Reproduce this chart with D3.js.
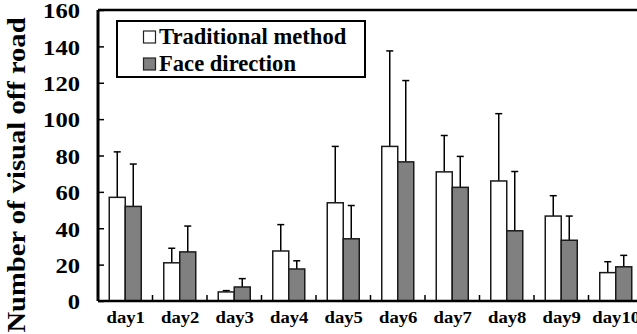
<!DOCTYPE html>
<html><head><meta charset="utf-8">
<script src="https://cdn.jsdelivr.net/npm/d3@7"></script>
<style>body{margin:0;background:#fff}svg{display:block}</style>
</head><body>
<script>
const days = ["day1","day2","day3","day4","day5","day6","day7","day8","day9","day10"];
const seriesNames = ["Traditional method","Face direction"];
const traditional = [57, 21, 5, 27.5, 54, 85, 71, 66, 46.7, 15.6];
const traditionalErr = [25, 8, 0.7, 14.5, 31, 52.5, 20, 37, 11.2, 6];
const face = [52, 27, 7.7, 17.6, 34.2, 76.5, 62.5, 38.6, 33.4, 18.8];
const faceErr = [23.3, 14.2, 4.6, 4.5, 18.3, 44.7, 17, 32.6, 13.3, 6.3];
const yTicks = [0,20,40,60,80,100,120,140,160];

(function(){
const W = 637, H = 334;
const svg = d3.select("body").append("svg").attr("width", W).attr("height", H);
const left = 98, topY = 10, bottom = 301, catW = 54.5;
const x = d3.scaleBand().domain(days).range([left, left + catW*days.length]).padding(0);
const y = d3.scaleLinear().domain([0,160]).range([bottom, topY]);
const xs = d3.scaleBand().domain(seriesNames).range([(catW-32)/2, (catW+32)/2]).padding(0);
const fills = {"Traditional method":"#ffffff","Face direction":"#808080"};
const data = days.map((d,i)=>({day:d, vals:[
  {s:seriesNames[0], v:traditional[i], e:traditionalErr[i]},
  {s:seriesNames[1], v:face[i], e:faceErr[i]}]}));
const font = sel => sel.style("font-family","Liberation Serif").style("font-weight","bold").style("fill","#000");

svg.append("line").attr("x1", left).attr("x2", W+5).attr("y1", y(160)).attr("y2", y(160))
  .attr("stroke","#000").attr("stroke-width",2.5);

const g = svg.selectAll("g.day").data(data).join("g").attr("class","day")
  .attr("transform", d=>`translate(${x(d.day)},0)`);
g.selectAll("g.err").data(d=>d.vals).join("g").attr("class","err").each(function(d){
  const cx = xs(d.s) + xs.bandwidth()/2;
  const s = d3.select(this);
  s.append("line").attr("x1",cx).attr("x2",cx).attr("y1",y(d.v)).attr("y2",y(d.v+d.e))
    .attr("stroke","#000").attr("stroke-width",1.5);
  s.append("line").attr("x1",cx-3.5).attr("x2",cx+3.5).attr("y1",y(d.v+d.e)).attr("y2",y(d.v+d.e))
    .attr("stroke","#000").attr("stroke-width",1.5);
});
g.selectAll("rect").data(d=>d.vals).join("rect")
  .attr("x", d=>xs(d.s)).attr("width", xs.bandwidth())
  .attr("y", d=>y(d.v)).attr("height", d=>y(0)-y(d.v))
  .attr("fill", d=>fills[d.s]).attr("stroke","#1a1a1a").attr("stroke-width",1.5);

const yAxis = svg.append("g").attr("transform",`translate(${left},0)`)
  .call(d3.axisLeft(y).tickValues(yTicks).tickSize(-6).tickFormat(""));
yAxis.select(".domain").attr("stroke","#000").attr("stroke-width",3).attr("d",`M0,${y(160)}V${y(0)}`);
yAxis.selectAll(".tick line").attr("stroke","#000").attr("stroke-width",1.5);
svg.selectAll("g.ylab").data(yTicks).join("g").attr("class","ylab")
  .attr("transform", d=>`translate(80,${y(d)+8.3})`)
  .append("text").attr("text-anchor","end").style("font-size","20px")
  .attr("transform","scale(1.23,1)").call(font).text(d=>d);

const xAxis = svg.append("g").attr("transform",`translate(0,${bottom})`)
  .call(d3.axisBottom(x).tickSize(0).tickFormat(""));
xAxis.select(".domain").attr("stroke","#000").attr("stroke-width",2.5).attr("d",`M${left},0H${W+5}`);
xAxis.selectAll(".tick").remove();
svg.selectAll("line.xt").data(days.slice(1)).join("line").attr("class","xt")
  .attr("x1",d=>x(d)).attr("x2",d=>x(d)).attr("y1",bottom).attr("y2",bottom-6)
  .attr("stroke","#000").attr("stroke-width",1.5);
svg.selectAll("g.xlab").data(days).join("g").attr("class","xlab")
  .attr("transform", d=>`translate(${x(d)+catW/2+0.5},323)`)
  .append("text").attr("text-anchor","middle").style("font-size","17px")
  .attr("transform","scale(1.1,1)").call(font).text(d=>d);

svg.append("g").attr("transform","translate(25,175) rotate(-90)")
  .append("text").attr("text-anchor","middle").style("font-size","26px")
  .attr("transform","scale(1.1,1)").call(font)
  .text("Number of visual off road");

const lg = svg.append("g");
lg.append("rect").attr("x",117).attr("y",21).attr("width",248).attr("height",56)
  .attr("fill","#fff").attr("stroke","#000").attr("stroke-width",2);
const rows = lg.selectAll("g.row").data(seriesNames).join("g").attr("class","row")
  .attr("transform",(d,i)=>`translate(0,${i*27})`);
rows.append("rect").attr("x",143.5).attr("y",31).attr("width",12).attr("height",12)
  .attr("fill",d=>fills[d]).attr("stroke","#222").attr("stroke-width",1.2);
rows.append("text").attr("x",159).attr("y",44).style("font-size","22.6px")
  .call(font).text(d=>d);
})();
</script>
</body></html>
